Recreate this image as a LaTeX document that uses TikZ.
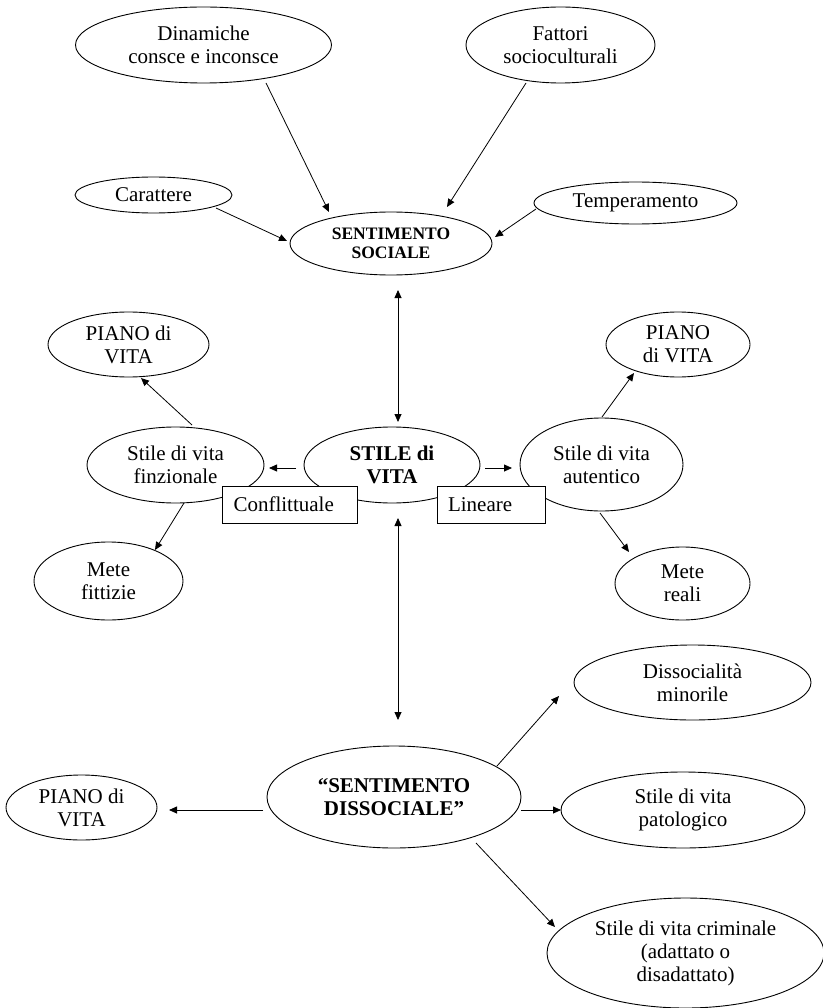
\documentclass[tikz,border=0pt]{standalone}
\usepackage{fontspec}
\setmainfont{Liberation Serif}
\usetikzlibrary{shapes.geometric,arrows.meta}
\begin{document}
\begin{tikzpicture}[x=1pt,y=-1pt,
  ell/.style={ellipse,draw,line width=0.9pt,inner sep=0pt,align=center,
    font=\fontsize{21}{23}\selectfont},
  bellsmall/.style={ell,font=\fontsize{17.5}{19}\selectfont\bfseries},
  bellbig/.style={ell,font=\fontsize{21}{23.5}\selectfont\bfseries},
  tagbox/.style={rectangle,draw,fill=white,line width=0.9pt,inner xsep=11pt,
    inner ysep=0pt,minimum height=37pt,align=left,
    font=\fontsize{21}{23}\selectfont},
  arr/.style={line width=0.8pt,-{Triangle[length=8pt,width=7pt]}},
  darr/.style={line width=0.8pt,{Triangle[length=8pt,width=7pt]}-{Triangle[length=8pt,width=7pt]}}
]
\useasboundingbox (0,0) rectangle (822,1008);
% top
\node[ell,minimum width=256pt,minimum height=76pt] (din) at (203.5,45) {Dinamiche\\consce e inconsce};
\node[ell,minimum width=189pt,minimum height=76pt] (fat) at (560.5,45) {Fattori\\socioculturali};
\node[ell,minimum width=157pt,minimum height=36pt] (car) at (153.5,195) {Carattere};
\node[ell,minimum width=203pt,minimum height=42pt] (tem) at (635.5,203) {Temperamento};
\node[bellsmall,minimum width=202pt,minimum height=63pt] (ss) at (391,243.5) {SENTIMENTO\\SOCIALE};
% middle
\node[ell,minimum width=161pt,minimum height=65pt] (pl) at (128.5,344.5) {PIANO di\\VITA};
\node[ell,minimum width=144pt,minimum height=65pt] (pr) at (678,344.5) {PIANO\\di VITA};
\node[ell,minimum width=177pt,minimum height=76pt] (fin) at (175.5,465) {Stile di vita\\finzionale};
\node[bellbig,minimum width=176pt,minimum height=76pt] (sv) at (392,465) {STILE di\\VITA};
\node[ell,minimum width=163pt,minimum height=93pt] (aut) at (601.5,464.5) {Stile di vita\\autentico};
\node[ell,minimum width=149pt,minimum height=78pt] (mf) at (108.5,581) {Mete\\fittizie};
\node[ell,minimum width=135pt,minimum height=73pt] (mr) at (682.5,583.5) {Mete\\reali};
\node[tagbox,text width=113pt] (con) at (290,504.5) {Conflittuale};
\node[tagbox,text width=86pt] (lin) at (491,504.5) {Lineare};
% bottom
\node[ell,minimum width=237pt,minimum height=75pt] (dm) at (692.5,682.5) {Dissocialità\\minorile};
\node[bellbig,minimum width=254pt,minimum height=102pt] (sd) at (394,797) {“SENTIMENTO\\DISSOCIALE”};
\node[ell,minimum width=151pt,minimum height=65pt] (pb) at (81.5,807.5) {PIANO di\\VITA};
\node[ell,minimum width=244pt,minimum height=76pt] (pat) at (683,810) {Stile di vita\\patologico};
\node[ell,minimum width=277pt,minimum height=110pt] (cri) at (685.5,953) {Stile di vita criminale\\(adattato o\\disadattato)};
% connectors
\draw[arr] ([shift={(62.5,38)}]din.center) -- ([shift={(-62,-31.5)}]ss.center);
\draw[arr] ([shift={(-34.5,38)}]fat.center) -- ([shift={(56,-36.5)}]ss.center);
\draw[arr] ([shift={(62.5,13)}]car.center) -- ([shift={(-104,-2.5)}]ss.center);
\draw[arr] ([shift={(-99.5,6)}]tem.center) -- ([shift={(104,-6.5)}]ss.center);
\draw[darr] ([shift={(7,46.5)}]ss.center) -- ([shift={(6,-43)}]sv.center);
\draw[arr] ([shift={(16.5,-40)}]fin.center) -- ([shift={(12.5,33.5)}]pl.center);
\draw[arr] ([shift={(8.5,38)}]fin.center) -- ([shift={(46.5,-31)}]mf.center);
\draw[arr] ([shift={(0.5,-47.5)}]aut.center) -- ([shift={(-44,28.5)}]pr.center);
\draw[arr] ([shift={(-1.5,48.5)}]aut.center) -- ([shift={(-53.5,-31.5)}]mr.center);
\draw[arr] ([shift={(-96,3)}]sv.center) -- ([shift={(93.5,3)}]fin.center);
\draw[arr] ([shift={(93,3)}]sv.center) -- ([shift={(-89.5,3.5)}]aut.center);
\draw[darr] ([shift={(6,53)}]sv.center) -- ([shift={(4,-77)}]sd.center);
\draw[arr] ([shift={(-131,13)}]sd.center) -- ([shift={(87.5,2.5)}]pb.center);
\draw[arr] ([shift={(127,13)}]sd.center) -- ([shift={(-122,0)}]pat.center);
\draw[arr] ([shift={(103,-31)}]sd.center) -- ([shift={(-133.5,13.5)}]dm.center);
\draw[arr] ([shift={(82,46)}]sd.center) -- ([shift={(-130.5,-26)}]cri.center);
\end{tikzpicture}
\end{document}
